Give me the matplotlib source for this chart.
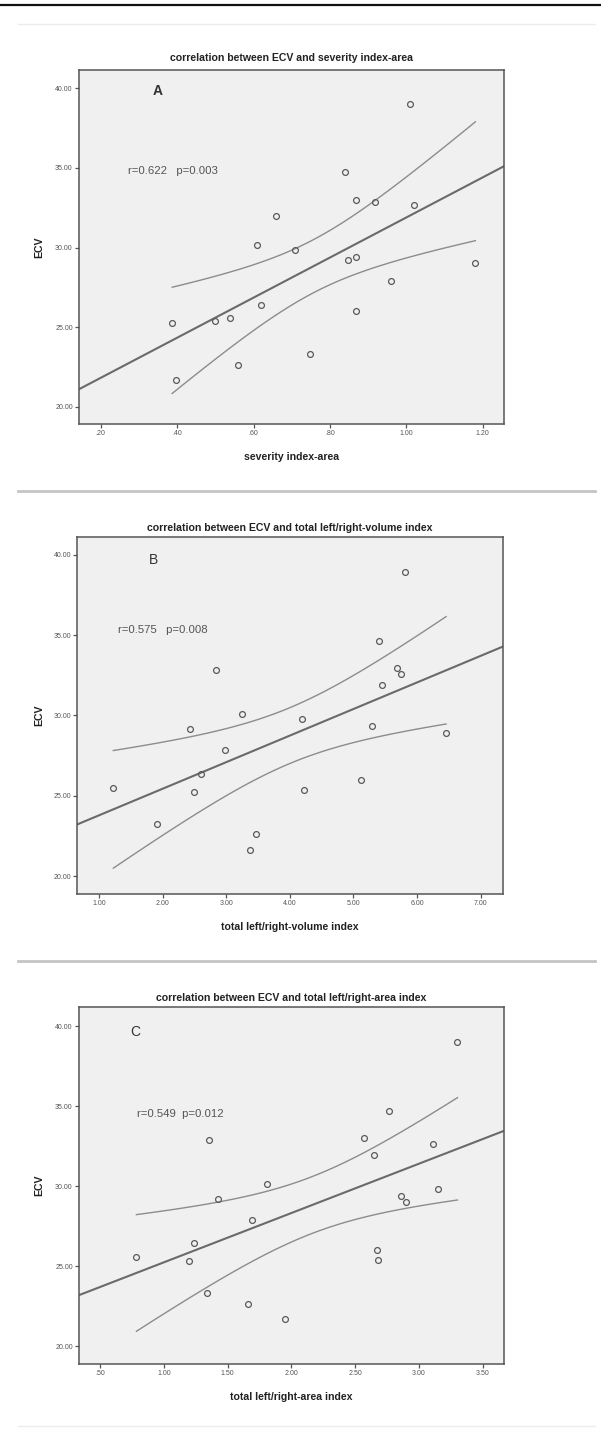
import numpy as np
import matplotlib
matplotlib.use("Agg")
import matplotlib.pyplot as plt
from matplotlib.lines import Line2D

plt.rcParams['font.family'] = ['Liberation Sans', 'DejaVu Sans']

# ECV values (same patients in every panel, read per panel)
ecv_a = [25.30, 21.70, 25.37, 25.58, 22.64, 30.17, 26.42, 31.97, 29.87, 23.33,
         34.74, 29.25, 29.39, 33.02, 26.02, 32.89, 27.91, 39.04, 32.66, 29.01]
severity_area = [0.387, 0.398, 0.499, 0.538, 0.559, 0.608, 0.619, 0.658, 0.708, 0.749,
                 0.840, 0.848, 0.869, 0.869, 0.869, 0.919, 0.960, 1.010, 1.019, 1.181]

ecv_b = [25.50, 23.26, 29.16, 25.23, 26.34, 32.82, 27.85, 30.09, 21.64, 22.59,
         29.80, 25.34, 25.96, 29.33, 34.66, 31.92, 32.96, 32.60, 38.94, 28.93]
volume_index = [1.225, 1.917, 2.426, 2.494, 2.604, 2.835, 2.981, 3.244, 3.380, 3.474,
                4.197, 4.223, 5.120, 5.293, 5.408, 5.450, 5.690, 5.753, 5.806, 6.456]

ecv_c = [25.58, 25.29, 26.42, 23.31, 32.86, 29.19, 22.65, 27.88, 30.10, 21.69,
         32.98, 31.96, 26.02, 25.38, 34.71, 29.36, 28.98, 32.64, 29.83, 39.02]
area_index = [0.785, 1.198, 1.240, 1.339, 1.357, 1.428, 1.658, 1.690, 1.810, 1.949,
              2.573, 2.651, 2.670, 2.680, 2.769, 2.861, 2.900, 3.109, 3.153, 3.302]

titles = ["correlation between ECV and severity index-area",
          "correlation between ECV and total left/right-volume index",
          "correlation between ECV and total left/right-area index"]
xlabels = ["severity index-area", "total left/right-volume index", "total left/right-area index"]
letters = ["A", "B", "C"]
stats = ["r=0.622   p=0.003", "r=0.575   p=0.008", "r=0.549  p=0.012"]

xticks_a = [0.2, 0.4, 0.6, 0.8, 1.0, 1.2]
xticklabels_a = [".20", ".40", ".60", ".80", "1.00", "1.20"]
xticks_b = [1, 2, 3, 4, 5, 6, 7]
xticklabels_b = ["1.00", "2.00", "3.00", "4.00", "5.00", "6.00", "7.00"]
xticks_c = [0.5, 1.0, 1.5, 2.0, 2.5, 3.0, 3.5]
xticklabels_c = [".50", "1.00", "1.50", "2.00", "2.50", "3.00", "3.50"]
yticks = [20, 25, 30, 35, 40]
yticklabels = ["20.00", "25.00", "30.00", "35.00", "40.00"]

W, H = 601, 1430
fig = plt.figure(figsize=(W / 100, H / 100), dpi=100)
fig.patch.set_facecolor("white")


def px(x, y):
    return x / W, 1 - y / H


# page decorations: top rule and card separators
fig.add_artist(Line2D([0, 1], [1 - 5 / H] * 2, color="#111111", lw=1.6))
for yy in [491, 961]:
    fig.add_artist(Line2D([0.03, 0.99], [1 - yy / H] * 2, color="#c4c4c4", lw=2.0))
for yy in [24, 1426]:
    fig.add_artist(Line2D([0.03, 0.99], [1 - yy / H] * 2, color="#ececec", lw=1.0))

panels = [
    dict(x=severity_area, y=ecv_a, box=(79, 70, 504, 424), xlim=(0.143, 1.256),
         ylim=(18.93, 41.15), xt=xticks_a, xtl=xticklabels_a,
         title_y=58, xlabel_y=457, letter_pos=(0.35, 39.85), stat_pos=(0.271, 34.83),
         letter_bold=True),
    dict(x=volume_index, y=ecv_b, box=(77.3, 537.3, 502.7, 894), xlim=(0.659, 7.346),
         ylim=(18.88, 41.1), xt=xticks_b, xtl=xticklabels_b,
         title_y=527.7, xlabel_y=927.3, letter_pos=(1.85, 39.7), stat_pos=(1.30, 35.33),
         letter_bold=False),
    dict(x=area_index, y=ecv_c, box=(79, 1007.3, 504.3, 1364), xlim=(0.335, 3.669),
         ylim=(18.875, 41.17), xt=xticks_c, xtl=xticklabels_c,
         title_y=997.7, xlabel_y=1396.7, letter_pos=(0.775, 39.64), stat_pos=(0.788, 34.48),
         letter_bold=False),
]

for i, p in enumerate(panels):
    x0, y0, x1, y1 = p["box"]
    ax = fig.add_axes([x0 / W, 1 - y1 / H, (x1 - x0) / W, (y1 - y0) / H])
    ax.set_facecolor("#f0f0f0")
    for s in ax.spines.values():
        s.set_color("#555555")
        s.set_linewidth(1.1)

    x = np.array(p["x"])
    y = np.array(p["y"])
    n = len(x)
    slope, intercept = np.polyfit(x, y, 1)
    resid = y - (slope * x + intercept)
    s_err = np.sqrt(np.sum(resid ** 2) / (n - 2))
    sxx = np.sum((x - x.mean()) ** 2)
    t = 2.101

    # fit line over the whole axis, 95% mean CI over the data range
    xl = np.linspace(p["xlim"][0], p["xlim"][1], 100)
    ax.plot(xl, slope * xl + intercept, color="#6a6a6a", lw=1.5, zorder=2)
    xc = np.linspace(x.min(), x.max(), 100)
    band = t * s_err * np.sqrt(1 / n + (xc - x.mean()) ** 2 / sxx)
    fit = slope * xc + intercept
    ax.plot(xc, fit + band, color="#8c8c8c", lw=1.0, zorder=2)
    ax.plot(xc, fit - band, color="#8c8c8c", lw=1.0, zorder=2)

    ax.plot(x, y, linestyle="none", marker="o", ms=4.2, mfc="none",
            mec="#5a5a5a", mew=0.9, zorder=3)

    ax.set_xlim(*p["xlim"])
    ax.set_ylim(*p["ylim"])
    ax.set_xticks(p["xt"])
    ax.set_xticklabels(p["xtl"])
    ax.set_yticks(yticks)
    ax.set_yticklabels(yticklabels)
    ax.tick_params(direction="out", length=3, width=0.9, color="#555555",
                   labelsize=5, labelcolor="#555555", pad=1.5)

    ax.text(*p["letter_pos"], letters[i], fontsize=10, ha="center", va="center",
            color="#333333", fontweight="bold" if p["letter_bold"] else "normal")
    ax.text(*p["stat_pos"], stats[i], fontsize=8.2, ha="left", va="center",
            color="#555555")

    cx = (x0 + x1) / 2
    fig.text(*px(cx, p["title_y"]), titles[i], fontsize=7.6, fontweight="bold",
             ha="center", va="center", color="#222222")
    fig.text(*px(cx, p["xlabel_y"]), xlabels[i], fontsize=7.6, fontweight="bold",
             ha="center", va="center", color="#222222")
    fig.text(*px(39, (y0 + y1) / 2), "ECV", fontsize=7.6, fontweight="bold",
             rotation=90, ha="center", va="center", color="#222222")

fig.savefig("out.png", dpi=100, facecolor="white")
